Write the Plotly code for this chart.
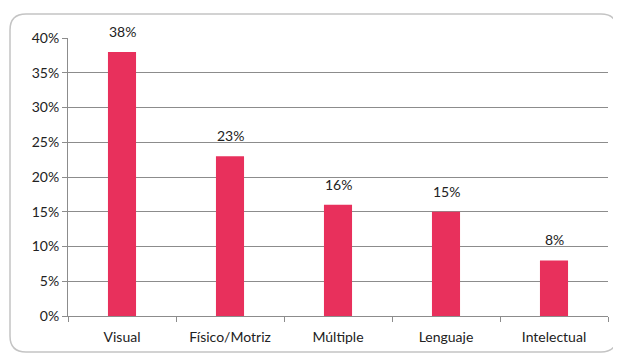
import plotly.graph_objects as go

categories = ["Visual", "Físico/Motriz", "Múltiple", "Lenguaje", "Intelectual"]
values = [38, 23, 16, 15, 8]
tick_vals = [0, 5, 10, 15, 20, 25, 30, 35, 40]
tick_text = ["0%", "5%", "10%", "15%", "20%", "25%", "30%", "35%", "40%"]

# page body has an 8px margin, so the figure is sized to fit the window
OFF = 8
W, H = 621 - OFF, 356 - OFF
L, R, T, B = 68 - OFF, 13, 38 - OFF, 40
pw, ph = W - L - R, H - T - B

def px_x(x):
    return (x - OFF - L) / pw

def px_y(y):
    return (H - B - (y - OFF)) / ph

# rounded border path (window pixel -> paper)
x0, x1, y0, y1, r = 10, 617, 14, 352, 16
pts = [
    f"M {px_x(x0 + r)} {px_y(y0)}",
    f"L {px_x(x1 - r)} {px_y(y0)}",
    f"Q {px_x(x1)} {px_y(y0)} {px_x(x1)} {px_y(y0 + r)}",
    f"L {px_x(x1)} {px_y(y1 - r)}",
    f"Q {px_x(x1)} {px_y(y1)} {px_x(x1 - r)} {px_y(y1)}",
    f"L {px_x(x0 + r)} {px_y(y1)}",
    f"Q {px_x(x0)} {px_y(y1)} {px_x(x0)} {px_y(y1 - r)}",
    f"L {px_x(x0)} {px_y(y0 + r)}",
    f"Q {px_x(x0)} {px_y(y0)} {px_x(x0 + r)} {px_y(y0)}",
    "Z",
]

fig = go.Figure(
    go.Bar(
        x=categories,
        y=values,
        marker=dict(color="#E8305C", line=dict(width=0)),
        cliponaxis=False,
    )
)

annotations = [
    dict(
        x=c, y=v, xref="x", yref="y",
        text=f"{v}%", showarrow=False,
        yanchor="bottom", yshift=10,
        font=dict(color="#222222", size=14),
    )
    for c, v in zip(categories, values)
]

fig.update_layout(
    width=W,
    height=H,
    margin=dict(l=L, r=R, t=T, b=B, pad=0),
    paper_bgcolor="white",
    plot_bgcolor="white",
    font=dict(family="Lato, Open Sans, sans-serif", size=14, color="#222222"),
    bargap=0.74,
    showlegend=False,
    annotations=annotations,
    shapes=[
        dict(
            type="path",
            xref="paper",
            yref="paper",
            path=" ".join(pts),
            line=dict(color="#C4C4C4", width=1.5),
            fillcolor="rgba(0,0,0,0)",
            layer="below",
        )
    ],
)

fig.update_xaxes(
    type="category",
    showline=True,
    linecolor="#8C8C8C",
    linewidth=1,
    ticks="outside",
    tickson="boundaries",
    ticklen=5,
    tickcolor="#8C8C8C",
    showgrid=False,
    ticklabelstandoff=8,
    tickfont=dict(size=14, color="#222222"),
)

fig.update_yaxes(
    range=[0, 40],
    tickvals=tick_vals,
    ticktext=tick_text,
    showline=True,
    linecolor="#8C8C8C",
    linewidth=1,
    ticks="outside",
    ticklen=5,
    tickcolor="#8C8C8C",
    showgrid=True,
    gridcolor="#8C8C8C",
    gridwidth=1,
    zeroline=False,
    tickfont=dict(size=14, color="#222222"),
)

fig.write_html("out.html")
